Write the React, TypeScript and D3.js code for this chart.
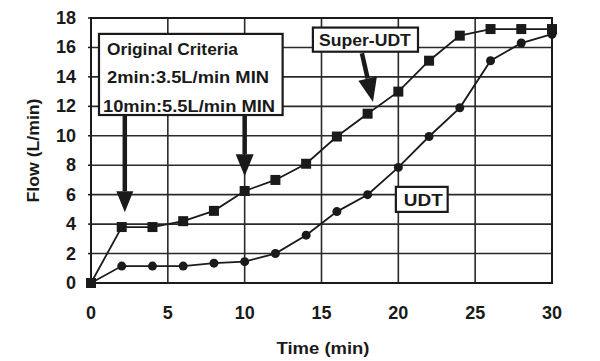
import React, { useEffect, useRef } from 'react';
import * as d3 from 'd3';

// Time in minutes
const times = [0, 2, 4, 6, 8, 10, 12, 14, 16, 18, 20, 22, 24, 26, 28, 30];
// Flow (L/min)
const superUdt = [0, 3.8, 3.8, 4.2, 4.9, 6.25, 7.0, 8.1, 9.95, 11.5, 13.0, 15.1, 16.8, 17.25, 17.25, 17.25];
const udt = [0, 1.15, 1.15, 1.15, 1.35, 1.45, 2.0, 3.25, 4.85, 6.0, 7.85, 9.95, 11.9, 15.1, 16.3, 16.9];

const xTicks = [0, 5, 10, 15, 20, 25, 30];
const yTicks = [0, 2, 4, 6, 8, 10, 12, 14, 16, 18];
const criteriaLines = ['Original Criteria', '2min:3.5L/min MIN', '10min:5.5L/min MIN'];

const FONT = '"Liberation Sans", Arial, sans-serif';
const INK = '#1a1a1a';

const App: React.FC = () => {
  const svgRef = useRef<SVGSVGElement>(null);

  useEffect(() => {
    if (!svgRef.current) return;
    const svg = d3.select(svgRef.current);
    svg.selectAll('*').remove();

    const x = d3.scaleLinear().domain([0, 30]).range([91, 552]);
    const y = d3.scaleLinear().domain([0, 18]).range([283, 18]);

    svg.append('rect').attr('width', 600).attr('height', 361).attr('fill', '#fff');

    // grid
    const grid = svg.append('g').attr('stroke', '#2a2a2a').attr('stroke-width', 1.6);
    yTicks.slice(1, -1).forEach(v => {
      grid.append('line').attr('x1', x(0)).attr('x2', x(30)).attr('y1', y(v)).attr('y2', y(v));
    });
    xTicks.slice(1, -1).forEach(v => {
      grid.append('line').attr('x1', x(v)).attr('x2', x(v)).attr('y1', y(0)).attr('y2', y(18));
    });

    // frame
    svg.append('rect')
      .attr('x', x(0)).attr('y', y(18))
      .attr('width', x(30) - x(0)).attr('height', y(0) - y(18))
      .attr('fill', 'none').attr('stroke', INK).attr('stroke-width', 2);

    // y ticks
    const yAxis = svg.append('g');
    yTicks.forEach(v => {
      yAxis.append('line').attr('x1', x(0) - 3).attr('x2', x(0)).attr('y1', y(v)).attr('y2', y(v))
        .attr('stroke', INK).attr('stroke-width', 1.5);
      yAxis.append('text').attr('x', 76).attr('y', y(v) + 6)
        .attr('text-anchor', 'end').attr('font-family', FONT).attr('font-size', 18)
        .attr('font-weight', 'bold').attr('fill', INK).text(v);
    });

    // x ticks
    xTicks.forEach(v => {
      svg.append('text').attr('x', x(v)).attr('y', 319)
        .attr('text-anchor', 'middle').attr('font-family', FONT).attr('font-size', 18)
        .attr('font-weight', 'bold').attr('fill', INK).text(v);
    });

    // axis titles
    svg.append('text').attr('x', 323).attr('y', 354)
      .attr('text-anchor', 'middle').attr('font-family', FONT).attr('font-size', 17)
      .attr('font-weight', 'bold').attr('fill', INK)
      .attr('textLength', 93).attr('lengthAdjust', 'spacingAndGlyphs')
      .text('Time (min)');
    svg.append('text').attr('transform', 'translate(39,150.5) rotate(-90)')
      .attr('text-anchor', 'middle').attr('font-family', FONT).attr('font-size', 17)
      .attr('font-weight', 'bold').attr('fill', INK)
      .attr('textLength', 104).attr('lengthAdjust', 'spacingAndGlyphs')
      .text('Flow (L/min)');

    const line = d3.line<number>().x((_, i) => x(times[i])).y(d => y(d));

    // UDT series (circles)
    svg.append('path').datum(udt).attr('d', line)
      .attr('fill', 'none').attr('stroke', INK).attr('stroke-width', 1.8);
    svg.selectAll('.dot-udt').data(udt).join('circle')
      .attr('class', 'dot-udt')
      .attr('cx', (_, i) => x(times[i])).attr('cy', d => y(d)).attr('r', 4.5).attr('fill', INK);

    // Super-UDT series (squares)
    svg.append('path').datum(superUdt).attr('d', line)
      .attr('fill', 'none').attr('stroke', INK).attr('stroke-width', 1.8);
    svg.selectAll('.dot-super').data(superUdt).join('rect')
      .attr('class', 'dot-super')
      .attr('x', (_, i) => x(times[i]) - 5).attr('y', d => y(d) - 5)
      .attr('width', 10).attr('height', 10).attr('fill', INK);

    // arrows
    const arrow = (x1: number, y1: number, x2: number, y2: number, headLen: number, headW: number) => {
      const dx = x2 - x1, dy = y2 - y1;
      const len = Math.sqrt(dx * dx + dy * dy);
      const ux = dx / len, uy = dy / len;
      const bx = x2 - ux * headLen, by = y2 - uy * headLen;
      svg.append('line').attr('x1', x1).attr('y1', y1).attr('x2', bx).attr('y2', by)
        .attr('stroke', INK).attr('stroke-width', 4.5);
      svg.append('polygon')
        .attr('points', [
          [x2, y2],
          [bx - uy * headW / 2, by + ux * headW / 2],
          [bx + uy * headW / 2, by - ux * headW / 2],
        ].map(p => p.join(',')).join(' '))
        .attr('fill', INK);
    };

    const label = (t: string, tx: number, ty: number, width: number) => {
      svg.append('text').attr('x', tx).attr('y', ty)
        .attr('font-family', FONT).attr('font-size', 16.5)
        .attr('font-weight', 'bold').attr('fill', INK)
        .attr('textLength', width).attr('lengthAdjust', 'spacingAndGlyphs')
        .text(t);
    };

    // criteria box
    const bx0 = x(0.52), bx1 = x(12.47), by0 = y(16.92), by1 = y(11.41);
    arrow(x(2.2), by1, x(2.2), y(4.8), 21, 17);
    arrow(x(10), by1, x(10), y(7.25), 22, 18);
    svg.append('rect').attr('x', bx0).attr('y', by0).attr('width', bx1 - bx0).attr('height', by1 - by0)
      .attr('fill', '#fff').attr('stroke', INK).attr('stroke-width', 2.2);
    const criteriaWidths = [131, 162, 172];
    criteriaLines.forEach((t, i) => {
      label(t, i === 2 ? bx0 + 4 : bx0 + 8, by0 + 21 + i * 28.5, criteriaWidths[i]);
    });

    // Super-UDT label
    arrow(x(17.63), y(15.6), x(18.35), y(12.3), 24, 19);
    const sx0 = x(14.44), sx1 = x(21.28), sy0 = y(17.35), sy1 = y(15.71);
    svg.append('rect').attr('x', sx0).attr('y', sy0).attr('width', sx1 - sx0).attr('height', sy1 - sy0)
      .attr('fill', '#fff').attr('stroke', INK).attr('stroke-width', 2.2);
    label('Super-UDT', sx0 + 6, sy1 - 6, 92);

    // UDT label
    const ux0 = x(19.84), ux1 = x(23.21), uy0 = y(6.53), uy1 = y(4.83);
    svg.append('rect').attr('x', ux0).attr('y', uy0).attr('width', ux1 - ux0).attr('height', uy1 - uy0)
      .attr('fill', '#fff').attr('stroke', INK).attr('stroke-width', 2.2);
    label('UDT', ux0 + 8, uy1 - 6, 39);
  }, []);

  return (
    <div style={{ position: 'fixed', left: 0, top: 0 }}>
      <svg ref={svgRef} width={600} height={361} style={{ display: 'block' }} />
    </div>
  );
};

export default App;
